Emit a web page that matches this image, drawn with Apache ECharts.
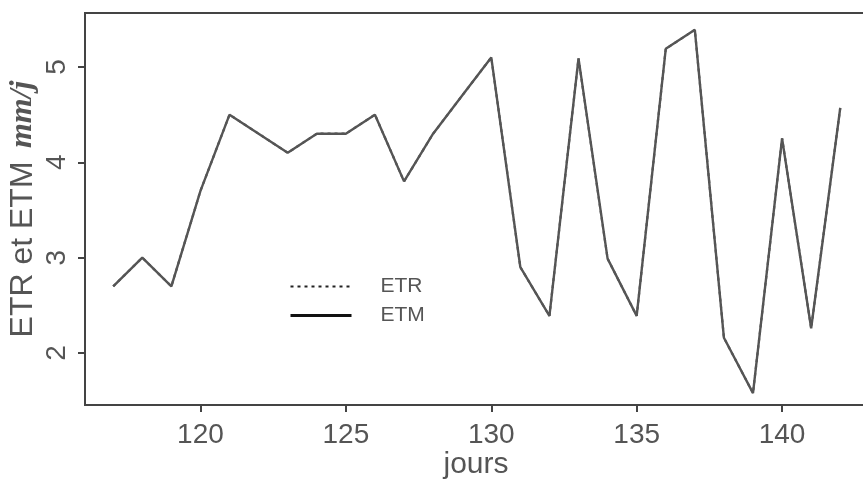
<!DOCTYPE html>
<html><head><meta charset="utf-8">
<script src="https://cdn.jsdelivr.net/npm/echarts@6/dist/echarts.min.js"></script>
<style>html,body{margin:0;padding:0;background:#fff}#c{width:863px;height:483px}</style>
</head><body><div id="c"></div>
<script>
const days = [117,118,119,120,121,122,123,124,125,126,127,128,129,130,131,132,133,134,135,136,137,138,139,140,141,142];
const etm  = [2.7,3.0,2.7,3.7,4.5,4.3,4.1,4.3,4.3,4.5,3.8,4.3,4.7,5.1,2.9,2.39,5.09,2.99,2.39,5.19,5.39,2.16,1.58,4.25,2.26,4.57];
const etr  = [2.7,3.0,2.7,3.7,4.5,4.3,4.1,4.3,4.3,4.5,3.8,4.3,4.7,5.1,2.9,2.39,5.09,2.99,2.39,5.19,5.39,2.16,1.58,4.25,2.26,4.57];
const xTicks = [120,125,130,135,140];
const yTicks = [2,3,4,5];
const seriesNames = ['ETR','ETM'];

const chart = echarts.init(document.getElementById('c'), null, {renderer:'canvas'});
const font = 'Liberation Sans, Arial, Helvetica, sans-serif';
const grey = '#555';
chart.setOption({
  animation:false,
  grid:{left:85, top:13, right:-4, bottom:78, show:true, borderColor:'#444', borderWidth:2,
        backgroundColor:'transparent', containLabel:false, outerBoundsMode:'none'},
  legend:{
    show:true, padding:0,
    orient:'vertical', left:289, top:276, itemWidth:61, itemHeight:14, itemGap:8,
    textStyle:{fontFamily:font, fontSize:21, color:grey, padding:[0,0,0,24]},
    data:[
      {name:seriesNames[0], itemStyle:{opacity:0}, lineStyle:{color:'#222', width:2, type:[3,4]}},
      {name:seriesNames[1], itemStyle:{opacity:0}, lineStyle:{color:'#111', width:3, type:'solid'}}
    ]
  },
  xAxis:{
    type:'value', min:116.03, max:142.92,
    name:'jours', nameLocation:'middle', nameGap:45, nameMoveOverlap:false,
    nameTextStyle:{fontFamily:font, fontSize:30, color:grey},
    axisLine:{show:false},
    axisTick:{show:true, length:7, lineStyle:{color:'#444', width:2}, customValues:xTicks},
    axisLabel:{fontFamily:font, fontSize:28, color:grey, margin:16, customValues:xTicks},
    splitLine:{show:false}
  },
  yAxis:{
    type:'value', min:1.455, max:5.566,
    name:'{a|ETR et ETM}    {m|mm/j}', nameLocation:'middle', nameRotate:90, nameGap:46, nameMoveOverlap:false,
    nameTextStyle:{rich:{
      a:{fontFamily:font, fontSize:32, color:grey},
      m:{fontFamily:'Liberation Serif, Times New Roman, serif', fontSize:32, fontWeight:'bold', fontStyle:'italic', color:grey}
    }},
    axisLine:{show:false},
    axisTick:{show:true, length:7, lineStyle:{color:'#444', width:2}, customValues:yTicks},
    axisLabel:{fontFamily:font, fontSize:28, color:grey, margin:14, rotate:90, customValues:yTicks},
    splitLine:{show:false}
  },
  series:[
    {name:seriesNames[0], type:'line', data:days.map((d,i)=>[d,etr[i]]), symbol:'none', showSymbol:false,
     lineStyle:{color:grey, width:2.2, type:[3,4]}, itemStyle:{color:grey}, z:1},
    {name:seriesNames[1], type:'line', data:days.map((d,i)=>[d,etm[i]]), symbol:'none', showSymbol:false,
     lineStyle:{color:grey, width:2.4}, itemStyle:{color:grey}, z:2}
  ]
});
</script></body></html>
